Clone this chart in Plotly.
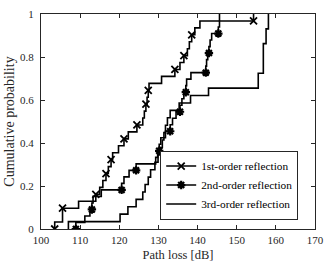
import plotly.graph_objects as go

# Path-loss samples (dB) read from the empirical CDFs
first_order = [103.5, 105.5, 105.5, 109.6, 114.0, 115.0, 115.8, 116.6, 117.2, 117.9,
               118.3, 119.8, 121.2, 122.3, 124.5, 126.0, 126.4, 126.8, 127.1, 127.4,
               127.6, 130.8, 134.2, 135.5, 136.5, 137.4, 137.9, 138.5, 139.3, 140.6,
               154.3]
second_order = [108.9, 111.2, 112.5, 113.0, 113.3, 115.4, 120.6, 121.2, 122.5, 124.3,
                129.3, 129.8, 130.2, 130.6, 131.8, 133.0, 133.6, 134.5, 135.5, 136.0,
                136.5, 137.0, 137.2, 138.3, 142.1, 142.3, 142.6, 142.9, 143.2, 143.6,
                145.3, 145.6, 145.6]
third_order = [107.0, 120.2, 122.2, 124.3, 126.0, 126.6, 127.4, 128.0, 129.1, 129.9,
               130.5, 131.0, 131.4, 131.8, 132.3, 133.0, 135.3, 138.2, 142.8, 155.5,
               155.5, 156.8, 156.8, 156.8, 156.8, 157.5, 157.5, 158.1, 158.1]

# marker placement: CDF level index and which end of the horizontal step
first_marker_levels = [0, 3, 5, 8, 10, 13, 15, 18, 20, 23, 25, 28, 30]
first_marker_sides = ["L"] * 12 + ["R"]
second_marker_levels = [0, 3, 6, 9, 12, 15, 18, 21, 24, 27, 30]
second_marker_sides = ["R"] * 11

names = ["1st-order reflection", "2nd-order reflection", "3rd-order reflection"]
x_ticks = [100, 110, 120, 130, 140, 150, 160, 170]
y_ticks = [0, 0.2, 0.4, 0.6, 0.8, 1]
y_tick_text = ["0", "0.2", "0.4", "0.6", "0.8", "1"]

FONT = "Liberation Serif"
LW = 1.6


def ecdf(samples):
    n = len(samples)
    xs = [samples[0]] + list(samples)
    ys = [0.0] + [k / n for k in range(1, n + 1)]
    return xs, ys


def marker_points(samples, levels, sides):
    n = len(samples)
    mx, my = [], []
    for k, s in zip(levels, sides):
        if k == 0:
            mx.append(samples[0])
        elif s == "L":
            mx.append(samples[k - 1])
        else:
            mx.append(samples[k])
        my.append(k / n)
    return mx, my


fig = go.Figure()

series = [
    (first_order, first_marker_levels, first_marker_sides,
     dict(symbol="x-thin-open", size=7, line=dict(width=1.8, color="black"))),
    (second_order, second_marker_levels, second_marker_sides,
     dict(symbol="asterisk-open", size=7, line=dict(width=2.2, color="black"))),
    (third_order, None, None, None),
]

for name, (samples, lv, sd, mk) in zip(names, series):
    xs, ys = ecdf(samples)
    fig.add_trace(go.Scatter(x=xs, y=ys, mode="lines", line_shape="hv",
                             line=dict(color="black", width=LW), showlegend=False,
                             hoverinfo="skip"))
    if lv is not None:
        mx, my = marker_points(samples, lv, sd)
        fig.add_trace(go.Scatter(x=mx, y=my, mode="markers", marker=dict(color="black", **mk),
                                 showlegend=False, hoverinfo="skip"))
    # legend entry
    if mk is not None:
        fig.add_trace(go.Scatter(x=[None], y=[None], mode="lines+markers", name=name,
                                 line=dict(color="black", width=LW),
                                 marker=dict(color="black", **mk)))
    else:
        fig.add_trace(go.Scatter(x=[None], y=[None], mode="lines", name=name,
                                 line=dict(color="black", width=LW)))

axis_common = dict(
    showline=True, linecolor="#262626", linewidth=1.2, mirror="ticks",
    ticks="inside", ticklen=4, tickwidth=1, tickcolor="#262626",
    showgrid=False, zeroline=False,
    tickfont=dict(family=FONT, size=11, color="#262626"),
)

fig.update_layout(
    width=332, height=267,
    margin=dict(l=41, r=17, t=8, b=36),
    paper_bgcolor="white", plot_bgcolor="white",
    font=dict(family=FONT, color="#262626"),
    xaxis=dict(range=[100, 170], tickvals=x_ticks, ticklabelstandoff=1,
               title=dict(text="Path loss [dB]", font=dict(family=FONT, size=12.5), standoff=4),
               **axis_common),
    yaxis=dict(range=[0, 1], tickvals=y_ticks, ticktext=y_tick_text, ticklabelstandoff=4,
               title=dict(text="Cumulative probability", font=dict(family=FONT, size=14), standoff=2),
               **axis_common),
    legend=dict(x=0.435, y=0.365, xanchor="left", yanchor="top",
                bgcolor="white", bordercolor="#262626", borderwidth=1,
                font=dict(family=FONT, size=11.3, color="black"),
                itemwidth=30, tracegroupgap=0),
)

fig.write_html("out.html", config={"displayModeBar": False},
               post_script="document.body.style.margin='0';")
